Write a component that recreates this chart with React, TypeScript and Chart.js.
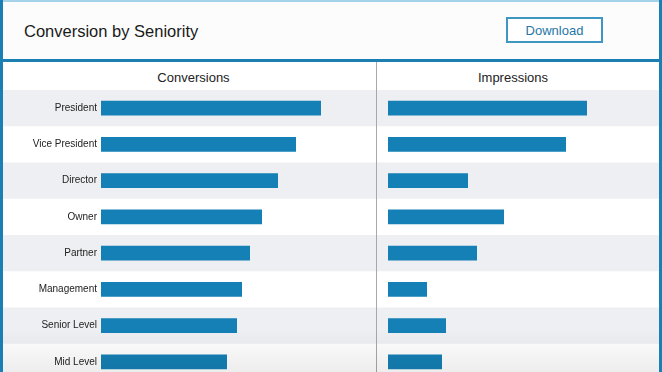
import React, { useEffect, useRef } from "react";
import { Chart, registerables } from "chart.js";

Chart.register(...registerables);

const categories = [
  "President",
  "Vice President",
  "Director",
  "Owner",
  "Partner",
  "Management",
  "Senior Level",
  "Mid Level",
];
const conversions = [220, 195, 177, 161, 149, 141, 136, 126];
const impressions = [199, 178, 80, 116, 89, 39, 58, 54];
const titleText = "Conversion by Seniority";
const buttonText = "Download";
const panelTitles = ["Conversions", "Impressions"];
const AXIS_MAX = 260;

const FONT = '"Liberation Sans", Arial, Helvetica, sans-serif';
const BAR = "#1580b5";
const BAND = "#eeeff3";
const FRAME = "#1b7fb4";

const bandPlugin = {
  id: "bands",
  beforeDraw(chart: any) {
    const area = chart.chartArea;
    const ctx = chart.ctx;
    const n = chart.data.labels.length;
    const h = (area.bottom - area.top) / n;
    ctx.save();
    ctx.fillStyle = BAND;
    for (let i = 0; i < n; i++) {
      if (i % 2 === 0) ctx.fillRect(0, area.top + i * h, chart.width, h);
    }
    ctx.restore();
  },
};

function makeConfig(values: number[], showLabels: boolean, padL: number, padR: number): any {
  return {
    type: "bar",
    data: {
      labels: categories,
      datasets: [
        {
          data: values,
          backgroundColor: BAR,
          barPercentage: 0.41,
          categoryPercentage: 1,
        },
      ],
    },
    options: {
      indexAxis: "y",
      responsive: false,
      animation: false,
      devicePixelRatio: 1,
      layout: { padding: { left: padL, right: padR, top: 0, bottom: 0 } },
      plugins: { legend: { display: false }, tooltip: { enabled: false } },
      scales: {
        x: { display: false, min: 0, max: AXIS_MAX },
        y: showLabels
          ? {
              display: true,
              grid: { display: false, drawTicks: false },
              border: { display: false },
              ticks: { padding: 4, color: "#222", font: { family: FONT, size: 10 } },
              afterFit(s: any) {
                s.width = 98;
                s.paddingTop = 0;
                s.paddingBottom = 0;
              },
            }
          : { display: false },
      },
    },
    plugins: [bandPlugin],
  };
}

function BarPanel(props: { values: number[]; showLabels: boolean; left: number; width: number; padL: number; padR: number }) {
  const ref = useRef<HTMLCanvasElement | null>(null);
  useEffect(() => {
    if (!ref.current) return;
    const chart = new Chart(ref.current, makeConfig(props.values, props.showLabels, props.padL, props.padR));
    return () => chart.destroy();
  }, []);
  return (
    <canvas
      ref={ref}
      width={props.width}
      height={290}
      style={{ position: "absolute", left: props.left, top: 90, width: props.width, height: 290 }}
    />
  );
}

export default function App() {
  return (
    <div
      style={{
        position: "fixed",
        left: 0,
        top: 0,
        width: 662,
        height: 372,
        overflow: "hidden",
        background: "#ffffff",
        fontFamily: FONT,
      }}
    >
      {/* header */}
      <div style={{ position: "absolute", left: 0, top: 0, width: 662, height: 59, background: "#fcfcfd" }} />
      <div style={{ position: "absolute", left: 0, top: 0, width: 662, height: 2, background: "#a3d2ea" }} />
      <div
        style={{
          position: "absolute",
          left: 24,
          top: 23,
          height: 17,
          lineHeight: "17px",
          fontSize: 16.5,
          color: "#1a1a1a",
          whiteSpace: "nowrap",
        }}
      >
        {titleText}
      </div>
      <div
        style={{
          position: "absolute",
          left: 506,
          top: 17,
          width: 97,
          height: 26,
          boxSizing: "border-box",
          border: "2px solid #3f96c3",
          display: "flex",
          alignItems: "center",
          justifyContent: "center",
          fontSize: 13,
          color: "#2676a6",
          background: "#ffffff",
        }}
      >
        {buttonText}
      </div>
      <div style={{ position: "absolute", left: 0, top: 59, width: 662, height: 3, background: FRAME }} />

      {/* column headers */}
      <div
        style={{
          position: "absolute",
          left: 3,
          top: 64,
          width: 381,
          height: 28,
          lineHeight: "28px",
          textAlign: "center",
          fontSize: 13,
          color: "#222",
        }}
      >
        {panelTitles[0]}
      </div>
      <div
        style={{
          position: "absolute",
          left: 377,
          top: 64,
          width: 272,
          height: 28,
          lineHeight: "28px",
          textAlign: "center",
          fontSize: 13,
          color: "#222",
        }}
      >
        {panelTitles[1]}
      </div>

      <BarPanel values={conversions} showLabels={true} left={3} width={373} padL={0} padR={15} />
      <BarPanel values={impressions} showLabels={false} left={377} width={282} padL={11} padR={11} />

      <div style={{ position: "absolute", left: 376, top: 62, width: 1, height: 310, background: "#a8a8a8" }} />

      {/* bottom shading */}
      <div
        style={{
          position: "absolute",
          left: 0,
          top: 330,
          width: 662,
          height: 42,
          background: "linear-gradient(to bottom, rgba(0,0,0,0), rgba(0,0,0,0.07))",
          pointerEvents: "none",
        }}
      />

      {/* frame sides */}
      <div style={{ position: "absolute", left: 0, top: 0, width: 3, height: 372, background: FRAME }} />
      <div style={{ position: "absolute", left: 659, top: 0, width: 3, height: 372, background: FRAME }} />
    </div>
  );
}
